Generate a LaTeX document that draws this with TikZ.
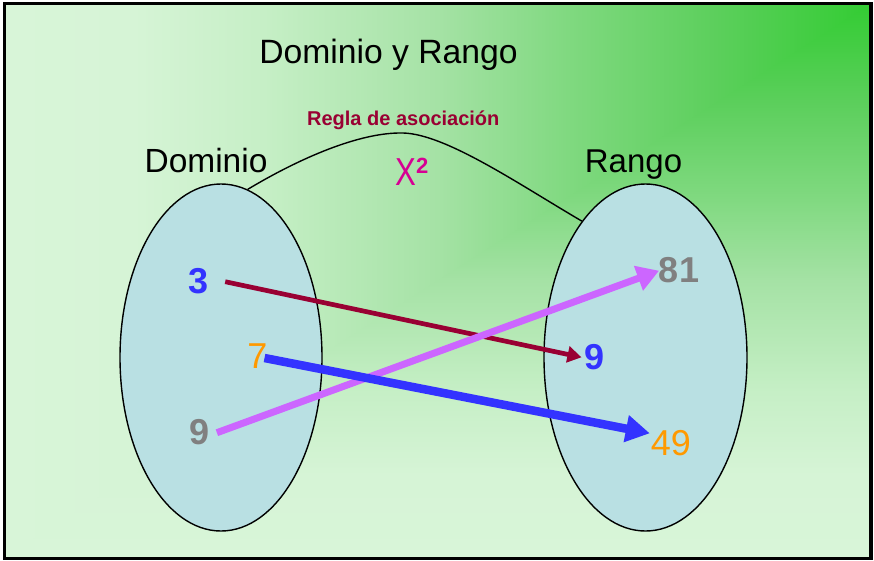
\documentclass[tikz,border=0pt]{standalone}
\usepackage{fontspec}
\setmainfont{Liberation Sans}
\usetikzlibrary{arrows.meta,calc,shapes.geometric}
\pgfdeclarehorizontalshading{bgh}{100bp}{rgb(0bp)=(0.847,0.961,0.847); rgb(25bp)=(0.847,0.961,0.847); rgb(32.5bp)=(0.839,0.957,0.839); rgb(40bp)=(0.776,0.937,0.776); rgb(50bp)=(0.647,0.886,0.647); rgb(57.5bp)=(0.502,0.851,0.502); rgb(66bp)=(0.361,0.812,0.361); rgb(75bp)=(0.2,0.8,0.2); rgb(100bp)=(0.2,0.8,0.2)}
\pgfdeclareverticalshading{bgv}{100bp}{rgb(0bp)=(0.847,0.961,0.847); rgb(25bp)=(0.847,0.961,0.847); rgb(32.5bp)=(0.839,0.957,0.839); rgb(40bp)=(0.776,0.937,0.776); rgb(50bp)=(0.647,0.886,0.647); rgb(57.5bp)=(0.502,0.851,0.502); rgb(66bp)=(0.361,0.812,0.361); rgb(75bp)=(0.2,0.8,0.2); rgb(100bp)=(0.2,0.8,0.2)}
\definecolor{ellfill}{RGB}{185,224,227}
\definecolor{reglacol}{RGB}{153,0,51}
\definecolor{xcol}{RGB}{214,0,147}
\definecolor{numblue}{RGB}{51,51,255}
\definecolor{numorange}{RGB}{255,153,0}
\definecolor{numgray}{RGB}{128,128,128}
\definecolor{arrviolet}{RGB}{204,102,255}
\definecolor{arrred}{RGB}{153,0,51}
\tikzset{
  setshape/.style={ellipse, draw=black, line width=1.4pt, fill=ellfill, minimum width=202pt, minimum height=347pt, inner sep=0pt},
  biglabel/.style={anchor=base, inner sep=0pt, font=\fontsize{33.5}{40}\selectfont},
  numbold/.style={inner sep=0pt, font=\bfseries\fontsize{36}{40}\selectfont},
  numreg/.style={inner sep=0pt, font=\fontsize{36}{40}\selectfont},
  redarrow/.style={draw=arrred, line width=4.7pt, -{Triangle[length=14pt,width=16pt]}},
  violetarrow/.style={draw=arrviolet, line width=7pt, -{Triangle[length=22pt,width=25pt]}},
  bluearrow/.style={draw=numblue, line width=8.5pt, -{Triangle[length=24pt,width=26pt]}},
}
\begin{document}
\begin{tikzpicture}[x=1pt, y=-1pt]
\useasboundingbox (0,0) rectangle (874,560);
% background gradient (from corner)
\shade[shading=bgh] (4,4) rectangle (871,558);
\begin{scope}
  \clip (871,4) -- (871,558) -- (4,558) -- cycle;
  \shade[shading=bgv] (4,4) rectangle (871,558);
\end{scope}
\draw[line width=3.5pt] (4.5,3.5) rectangle (871,558.5);

% titles
\node[biglabel, font=\fontsize{33.7}{40}\selectfont] (title) at (388.5,63.3) {Dominio y Rango};
\node[biglabel] (domlab) at (206,172) {Dominio};
\node[biglabel, font=\fontsize{33}{40}\selectfont] (rnglab) at (633.5,172) {Rango};
\node[anchor=base, inner sep=0pt, text=reglacol, font=\bfseries\fontsize{20}{24}\selectfont] (regla) at (403.3,125) {Regla de asociación};

% sets
\node[setshape] (dom) at (221,357.5) {};
\node[setshape, minimum width=203pt] (rng) at (645.5,357.5) {};

% rule curve
\coordinate (peak) at (403,133);
\draw[line width=1.4pt] (dom.81) .. controls (300,158) and (360,132) .. (peak)
      .. controls (446,134) and (520,185) .. (rng.115);
\node[anchor=base west, inner sep=0pt, text=xcol] (rule) at (395,185)
  {\fontsize{39}{42}\selectfont\scalebox{0.8}[1]{X}\raisebox{12pt}{\bfseries\fontsize{22}{24}\selectfont 2}};

% elements
\node[numbold, text=numblue] (d3) at (199,281) {3};
\node[numreg, text=numorange] (d7) at (257.5,356.5) {7};
\node[numbold, text=numgray] (d9) at (199.5,432) {9};
\node[numbold, text=numgray] (r81) at (679,270) {81};
\node[numbold, text=numblue] (r9) at (594.7,357) {9};
\node[numreg, text=numorange] (r49) at (670.8,443) {49};

% mapping arrows
\draw[redarrow] ($(d3.east)+(16,0.7)$) -- ($(r9.west)+(-3,0.3)$);
\draw[violetarrow] ($(d9.east)+(7.2,0.7)$) -- ($(r81.west)+(0.3,0.7)$);
\draw[bluearrow] ($(d7.east)+(-3.2,1.5)$) -- ($(r49.west)+(-0.8,-9.7)$);
\end{tikzpicture}
\end{document}
